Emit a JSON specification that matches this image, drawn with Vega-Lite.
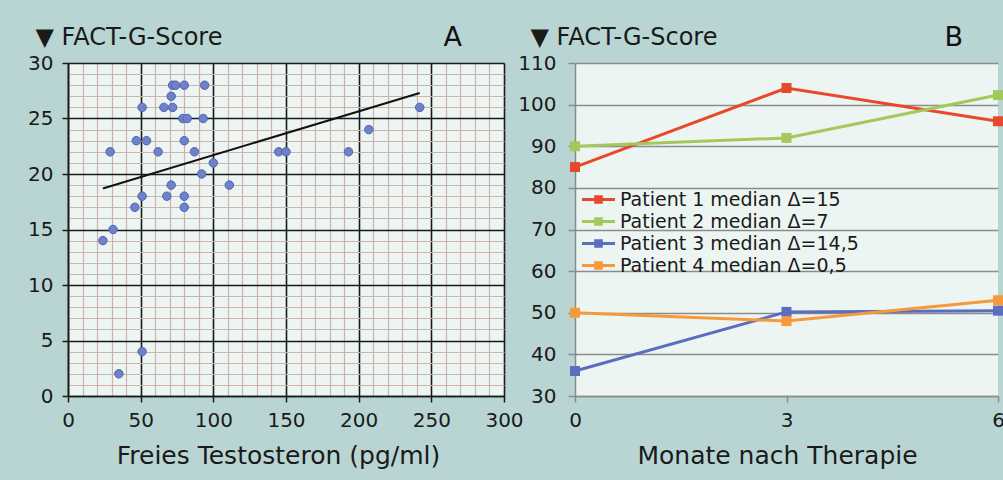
{
  "$schema": "https://vega.github.io/schema/vega-lite/v6.json",
  "background": "#b9d5d3",
  "padding": {"left": 27, "top": 24, "right": 0, "bottom": 12},
  "bounds": "flush",
  "spacing": 71,
  "config": {
    "font": "DejaVu Sans",
    "view": {"stroke": null, "fill": "#ecf5f2"},
    "axis": {
      "labelFont": "DejaVu Sans", "labelFontSize": 20, "labelColor": "#1a1a1a",
      "titleFont": "DejaVu Sans", "titleFontSize": 24, "titleFontWeight": "normal", "titleColor": "#1a1a1a",
      "labelOverlap": false, "labelFlush": false, "labelBound": false, "tickCount": 100, "format": "d"
    },
    "title": {"font": "DejaVu Sans", "fontSize": 27, "fontWeight": "normal", "color": "#111111", "anchor": "end", "frame": "group", "baseline": "alphabetic", "offset": -27}
  },
  "datasets": {
    "scatter": [
      {"testosteron": 72, "score": 28}, {"testosteron": 74, "score": 28}, {"testosteron": 80, "score": 28}, {"testosteron": 94, "score": 28},
      {"testosteron": 71, "score": 27}, {"testosteron": 51, "score": 26}, {"testosteron": 66, "score": 26}, {"testosteron": 72, "score": 26},
      {"testosteron": 79, "score": 25}, {"testosteron": 82, "score": 25}, {"testosteron": 93, "score": 25},
      {"testosteron": 47, "score": 23}, {"testosteron": 54, "score": 23}, {"testosteron": 80, "score": 23},
      {"testosteron": 29, "score": 22}, {"testosteron": 62, "score": 22}, {"testosteron": 87, "score": 22}, {"testosteron": 145, "score": 22}, {"testosteron": 150, "score": 22}, {"testosteron": 193, "score": 22},
      {"testosteron": 100, "score": 21}, {"testosteron": 92, "score": 20},
      {"testosteron": 71, "score": 19}, {"testosteron": 111, "score": 19},
      {"testosteron": 51, "score": 18}, {"testosteron": 68, "score": 18}, {"testosteron": 80, "score": 18},
      {"testosteron": 46, "score": 17}, {"testosteron": 80, "score": 17},
      {"testosteron": 31, "score": 15}, {"testosteron": 24, "score": 14},
      {"testosteron": 51, "score": 4}, {"testosteron": 35, "score": 2},
      {"testosteron": 207, "score": 24}, {"testosteron": 242, "score": 26}
    ],
    "fit": [
      {"testosteron": 24, "score": 18.7},
      {"testosteron": 242, "score": 27.3}
    ],
    "patients": [
      {"patient": "Patient 1 median Δ=15", "monat": 0, "score": 85},
      {"patient": "Patient 1 median Δ=15", "monat": 3, "score": 104},
      {"patient": "Patient 1 median Δ=15", "monat": 6, "score": 96},
      {"patient": "Patient 2 median Δ=7", "monat": 0, "score": 90},
      {"patient": "Patient 2 median Δ=7", "monat": 3, "score": 92},
      {"patient": "Patient 2 median Δ=7", "monat": 6, "score": 102.3},
      {"patient": "Patient 3 median Δ=14,5", "monat": 0, "score": 36},
      {"patient": "Patient 3 median Δ=14,5", "monat": 3, "score": 50.2},
      {"patient": "Patient 3 median Δ=14,5", "monat": 6, "score": 50.5},
      {"patient": "Patient 4 median Δ=0,5", "monat": 0, "score": 50},
      {"patient": "Patient 4 median Δ=0,5", "monat": 3, "score": 48},
      {"patient": "Patient 4 median Δ=0,5", "monat": 6, "score": 53}
    ]
  },
  "hconcat": [
    {
      "width": 436,
      "height": 333,
      "title": {"text": "A", "dx": -42},
      "layer": [
        {
          "data": {"name": "scatter"},
          "mark": {"type": "circle", "size": 72, "fill": "#6f81c9", "stroke": "#5263b2", "strokeWidth": 1, "opacity": 1},
          "encoding": {
            "x": {
              "field": "testosteron", "type": "quantitative",
              "scale": {"domain": [0, 300], "nice": false},
              "axis": {
                "values": [0,10,20,30,40,50,60,70,80,90,100,110,120,130,140,150,160,170,180,190,200,210,220,230,240,250,260,270,280,290,300],
                "title": "Freies Testosteron (pg/ml)", "titleFontSize": 25, "titleX": 210,
                "grid": true,
                "gridColor": {"condition": {"test": "datum.value % 50 === 0", "value": "#1a1a1a"}, "value": "#cdb3ae"},
                "gridWidth": {"condition": {"test": "datum.value % 50 === 0", "value": 1.6}, "value": 1.2},
                "gridOpacity": 1,
                "labelExpr": "datum.value % 50 === 0 ? datum.label : ''",
                "tickColor": "#1a1a1a", "tickSize": 6, "tickWidth": 1.5,
                "tickOpacity": {"condition": {"test": "datum.value % 50 === 0", "value": 1}, "value": 0},
                "domainColor": "#1a1a1a", "domainWidth": 1.6,
                "labelPadding": 8, "titlePadding": 13
              }
            },
            "y": {
              "field": "score", "type": "quantitative",
              "scale": {"domain": [0, 30], "nice": false},
              "axis": {
                "values": [0,1,2,3,4,5,6,7,8,9,10,11,12,13,14,15,16,17,18,19,20,21,22,23,24,25,26,27,28,29,30],
                "title": "▼ FACT-G-Score",
                "titleAngle": 0, "titleAlign": "left", "titleBaseline": "alphabetic",
                "titleX": -33, "titleY": -19,
                "grid": true,
                "gridColor": {"condition": {"test": "datum.value % 5 === 0", "value": "#1a1a1a"}, "value": "#cdb3ae"},
                "gridWidth": {"condition": {"test": "datum.value % 5 === 0", "value": 1.6}, "value": 1.2},
                "gridOpacity": 1,
                "labelExpr": "datum.value % 5 === 0 ? datum.label : ''",
                "tickColor": "#1a1a1a", "tickSize": 6, "tickWidth": 1.5,
                "tickOpacity": {"condition": {"test": "datum.value % 5 === 0", "value": 1}, "value": 0},
                "domainColor": "#1a1a1a", "domainWidth": 1.6,
                "labelPadding": 9
              }
            }
          }
        },
        {
          "data": {"name": "fit"},
          "mark": {"type": "line", "color": "#111111", "strokeWidth": 2},
          "encoding": {
            "x": {"field": "testosteron", "type": "quantitative"},
            "y": {"field": "score", "type": "quantitative"}
          }
        }
      ]
    },
    {
      "width": 423,
      "height": 333,
      "title": {"text": "B", "dx": -35},
      "data": {"name": "patients"},
      "mark": {"type": "line", "strokeWidth": 3, "point": {"shape": "square", "size": 100, "filled": true, "opacity": 1}},
      "encoding": {
        "x": {
          "field": "monat", "type": "quantitative",
          "scale": {"domain": [0, 6], "nice": false},
          "axis": {
            "values": [0, 3, 6], "title": "Monate nach Therapie", "titleFontSize": 25, "titleX": 202, "grid": false,
            "tickColor": "#8a8a8a", "tickSize": 6, "tickWidth": 1.5,
            "domainColor": "#8a8a8a", "domainWidth": 1.5,
            "labelPadding": 8, "titlePadding": 13
          }
        },
        "y": {
          "field": "score", "type": "quantitative",
          "scale": {"domain": [30, 110], "nice": false, "zero": false},
          "axis": {
            "values": [30, 40, 50, 60, 70, 80, 90, 100, 110],
            "title": "▼ FACT-G-Score",
            "titleAngle": 0, "titleAlign": "left", "titleBaseline": "alphabetic",
            "titleX": -45, "titleY": -19,
            "grid": true, "gridColor": "#8c8c8c", "gridWidth": 1.3, "gridOpacity": 1,
            "tickColor": "#8a8a8a", "tickSize": 7, "tickWidth": 1.5,
            "domainColor": "#8a8a8a", "domainWidth": 1.5,
            "labelPadding": 12
          }
        },
        "color": {
          "field": "patient", "type": "nominal",
          "scale": {
            "domain": ["Patient 1 median Δ=15", "Patient 2 median Δ=7", "Patient 3 median Δ=14,5", "Patient 4 median Δ=0,5"],
            "range": ["#e9492b", "#a5c85b", "#5b6dc1", "#f7993b"]
          },
          "legend": {
            "orient": "none", "legendX": 520, "legendY": 126, "title": null,
            "labelFont": "DejaVu Sans", "labelFontSize": 19, "labelColor": "#1a1a1a", "labelLimit": 0,
            "labelOffset": 11, "rowPadding": 1, "padding": 0,
            "symbolType": "M-1.6,-0.14H1.6V0.14H-1.6Z M-0.42,-0.42H0.42V0.42H-0.42Z",
            "symbolSize": 425, "symbolStrokeWidth": 0,
            "encode": {"symbols": {"update": {"fill": {"scale": "color", "field": "value"}, "stroke": {"value": "transparent"}}}}
          }
        }
      }
    }
  ]
}
